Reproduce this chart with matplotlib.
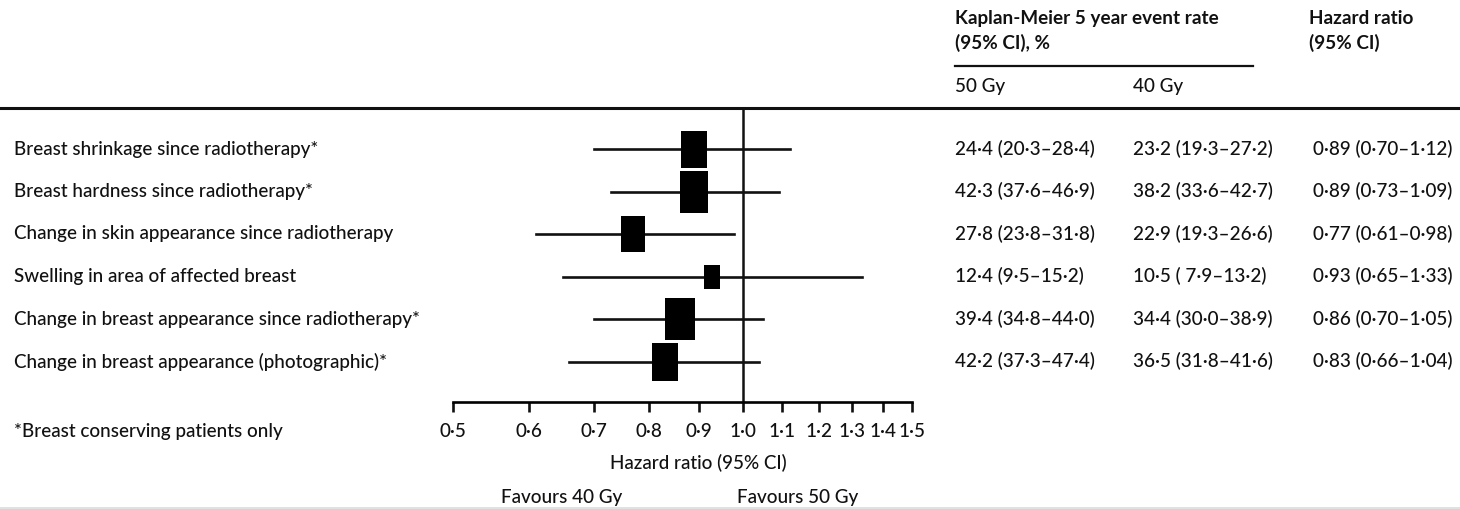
import matplotlib
matplotlib.use("Agg")
import matplotlib.pyplot as plt
from matplotlib.path import Path
from matplotlib.markers import MarkerStyle
from matplotlib.transforms import blended_transform_factory
from matplotlib.ticker import FixedLocator, NullLocator

# ── data ─────────────────────────────────────────────────────────────────────

outcomes = [
    "Breast shrinkage since radiotherapy*",
    "Breast hardness since radiotherapy*",
    "Change in skin appearance since radiotherapy",
    "Swelling in area of affected breast",
    "Change in breast appearance since radiotherapy*",
    "Change in breast appearance (photographic)*",
]
hr = [0.89, 0.89, 0.77, 0.93, 0.86, 0.83]
ci_low = [0.70, 0.73, 0.61, 0.65, 0.70, 0.66]
ci_high = [1.12, 1.09, 0.98, 1.33, 1.05, 1.04]
# relative box weight (box height in px in the original)
weights = [37, 42, 36, 24, 43, 38]

km_50 = [
    "24·4 (20·3–28·4)",
    "42·3 (37·6–46·9)",
    "27·8 (23·8–31·8)",
    "12·4 (9·5–15·2)",
    "39·4 (34·8–44·0)",
    "42·2 (37·3–47·4)",
]
km_40 = [
    "23·2 (19·3–27·2)",
    "38·2 (33·6–42·7)",
    "22·9 (19·3–26·6)",
    "10·5 ( 7·9–13·2)",
    "34·4 (30·0–38·9)",
    "36·5 (31·8–41·6)",
]
hr_text = [
    "0·89 (0·70–1·12)",
    "0·89 (0·73–1·09)",
    "0·77 (0·61–0·98)",
    "0·93 (0·65–1·33)",
    "0·86 (0·70–1·05)",
    "0·83 (0·66–1·04)",
]
ticks = [0.5, 0.6, 0.7, 0.8, 0.9, 1.0, 1.1, 1.2, 1.3, 1.4, 1.5]
tick_labels = [f"{t:.1f}".replace(".", "·") for t in ticks]

# ── style ────────────────────────────────────────────────────────────────────

INK = "#111111"
FONT = "Lato"
FS = 13.6
W, H = 1460, 509

plt.rcParams["font.family"] = FONT
plt.rcParams["font.weight"] = "medium"
plt.rcParams["text.color"] = INK

fig = plt.figure(figsize=(W / 100, H / 100), dpi=100)

# overlay in pixel coordinates for table text and rules
ov = fig.add_axes([0, 0, 1, 1])
ov.set_xlim(0, W)
ov.set_ylim(H, 0)
ov.axis("off")

# forest plot axes
top_px, bot_px = 108, 402
row0_px, row_step = 149, 42.5
ax = fig.add_axes([453 / W, 1 - bot_px / H, (912 - 453) / W, (bot_px - top_px) / H])
ax.patch.set_alpha(0)
ax.set_xscale("log")
ax.set_xlim(0.5, 1.5)
ax.set_ylim((bot_px - row0_px) / row_step, (top_px - row0_px) / row_step)
for s in ("top", "right", "left"):
    ax.spines[s].set_visible(False)
ax.spines["bottom"].set_linewidth(1.9)
ax.xaxis.set_major_locator(FixedLocator(ticks))
ax.xaxis.set_minor_locator(NullLocator())
ax.set_xticklabels(tick_labels, fontsize=FS)
ax.tick_params(axis="x", direction="out", length=7, width=1.9, pad=8, colors=INK)
ax.set_yticks([])

ax.axvline(1.0, color=INK, linewidth=1.8, zorder=1)

box = MarkerStyle(Path([(-0.345, -0.5), (0.345, -0.5), (0.345, 0.5),
                        (-0.345, 0.5), (-0.345, -0.5)],
                       [Path.MOVETO, Path.LINETO, Path.LINETO, Path.LINETO,
                        Path.CLOSEPOLY]))
rows = list(range(len(outcomes)))
for i in rows:
    ax.plot([ci_low[i], ci_high[i]], [i, i], color=INK, linewidth=1.9, zorder=2)
    ax.plot(hr[i], i, marker=box, markersize=weights[i] * 0.72,
            color="black", markeredgewidth=0, zorder=3)

# row texts: x in pixels, y in forest data units
tr = blended_transform_factory(ov.transData, ax.transData)
for i in rows:
    ax.text(14, i, outcomes[i], transform=tr, ha="left", va="center", fontsize=FS, clip_on=False)
    ax.text(955, i, km_50[i], transform=tr, ha="left", va="center", fontsize=FS, clip_on=False)
    ax.text(1133, i, km_40[i], transform=tr, ha="left", va="center", fontsize=FS, clip_on=False)
    ax.text(1313, i, hr_text[i], transform=tr, ha="left", va="center", fontsize=FS, clip_on=False)

# header
ov.text(955, 18, "Kaplan-Meier 5 year event rate", ha="left", va="center",
        fontsize=FS, fontweight="bold")
ov.text(955, 43, "(95% CI), %", ha="left", va="center", fontsize=FS, fontweight="bold")
ov.text(1309, 18, "Hazard ratio", ha="left", va="center", fontsize=FS, fontweight="bold")
ov.text(1309, 43, "(95% CI)", ha="left", va="center", fontsize=FS, fontweight="bold")
ov.plot([955, 1253], [66, 66], color=INK, linewidth=1.6)
ov.text(955, 86, "50 Gy", ha="left", va="center", fontsize=FS)
ov.text(1133, 86, "40 Gy", ha="left", va="center", fontsize=FS)
ov.plot([0, W], [top_px, top_px], color=INK, linewidth=2.2)

# footer
ov.text(14, 432, "*Breast conserving patients only", ha="left", va="center", fontsize=FS)
ov.text(698, 463, "Hazard ratio (95% CI)", ha="center", va="center", fontsize=FS)
ov.text(562, 498, "Favours 40 Gy", ha="center", va="center", fontsize=FS)
ov.text(798, 498, "Favours 50 Gy", ha="center", va="center", fontsize=FS)
ov.plot([0, W], [507.5, 507.5], color="#dcdcdc", linewidth=1.2)

fig.savefig("out.png", dpi=100, facecolor="white")
